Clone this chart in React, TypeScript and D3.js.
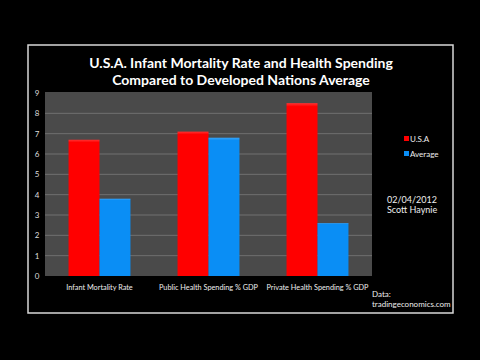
import * as d3 from "d3";

// chart data
const categories = ["Infant Mortality Rate", "Public Health Spending % GDP", "Private Health Spending % GDP"];
const series = ["U.S.A", "Average"];
const usaValues = [6.7, 7.1, 8.5];
const avgValues = [3.8, 6.8, 2.6];
const yTicks = [0, 1, 2, 3, 4, 5, 6, 7, 8, 9];
const colors = ["#ff0000", "#0a8ef5"];

export default function App() {
    const width = 480;
    const height = 360;
    const plotLeft = 45;
    const plotRight = 372;
    const plotTop = 92;
    const plotBottom = 276;
    const font = "Lato, 'Open Sans', sans-serif";

    const x = d3.scaleBand<string>()
        .domain(categories)
        .range([plotLeft, plotRight]);

    const xInner = d3.scaleBand<string>()
        .domain(series)
        .range([0, x.bandwidth()])
        .paddingOuter(0.76);

    const y = d3.scaleLinear()
        .domain([0, 9])
        .range([plotBottom, plotTop + 1]);

    const values = [usaValues, avgValues];

    return (
        <svg width={width} height={height} style={{ position: "absolute", left: 0, top: 0, background: "#000" }}>
            <defs>
                <linearGradient id="shine" x1="0" y1="0" x2="0" y2="1">
                    <stop offset="0" stopColor="#fff" stopOpacity={0.2} />
                    <stop offset="0.02" stopColor="#fff" stopOpacity={0} />
                </linearGradient>
            </defs>
            <rect x={0} y={0} width={width} height={height} fill="#000" />
            {/* outer frame */}
            <rect x={28} y={45} width={425} height={268} fill="none" stroke="#d8d8d8" strokeWidth={1.5} />

            {/* title */}
            <text x={241} y={68} textAnchor="middle" fill="#fff" fontFamily={font} fontWeight="bold" fontSize={14}>
                U.S.A. Infant Mortality Rate and Health Spending
            </text>
            <text x={241} y={85} textAnchor="middle" fill="#fff" fontFamily={font} fontWeight="bold" fontSize={14}>
                Compared to Developed Nations Average
            </text>

            {/* plot area */}
            <rect x={plotLeft} y={plotTop} width={plotRight - plotLeft} height={plotBottom - plotTop} fill="#4a4a4a" />
            {yTicks.map(t => (
                <g key={t}>
                    {t > 0 && t < 9 && (
                        <line x1={plotLeft} x2={plotRight} y1={y(t)} y2={y(t)} stroke="#707070" strokeWidth={1} />
                    )}
                    <text x={37} y={y(t) + 3} textAnchor="middle" fill="#ddd" fontFamily={font} fontSize={8}>{t}</text>
                </g>
            ))}

            {/* bars */}
            {categories.map((c, i) => (
                <g key={c} transform={`translate(${x(c)},0)`}>
                    {series.map((s, j) => (
                        <g key={s}>
                            <rect x={xInner(s)} y={y(values[j][i])} width={xInner.bandwidth()}
                                height={plotBottom - y(values[j][i])} fill={colors[j]} />
                            <rect x={xInner(s)} y={y(values[j][i])} width={xInner.bandwidth()}
                                height={plotBottom - y(values[j][i])} fill="url(#shine)" />
                        </g>
                    ))}
                    <text x={x.bandwidth() / 2} y={290} textAnchor="middle" fill="#eee" fontFamily={font} fontSize={7.3}>{c}</text>
                </g>
            ))}

            {/* legend */}
            {series.map((s, j) => (
                <g key={s} transform={`translate(404,${139 + j * 15})`}>
                    <rect x={0} y={-3} width={5} height={5} fill={colors[j]} />
                    <text x={6} y={2.5} fill="#eee" fontFamily={font} fontSize={8}>{s}</text>
                </g>
            ))}

            <text x={387} y={203} fill="#eee" fontFamily={font} fontSize={9}>02/04/2012</text>
            <text x={387} y={213} fill="#eee" fontFamily={font} fontSize={9}>Scott Haynie</text>

            <text x={372} y={297} fill="#eee" fontFamily={font} fontSize={8}>Data:</text>
            <text x={372} y={307} fill="#eee" fontFamily={font} fontSize={8}>tradingeconomics.com</text>
        </svg>
    );
}
